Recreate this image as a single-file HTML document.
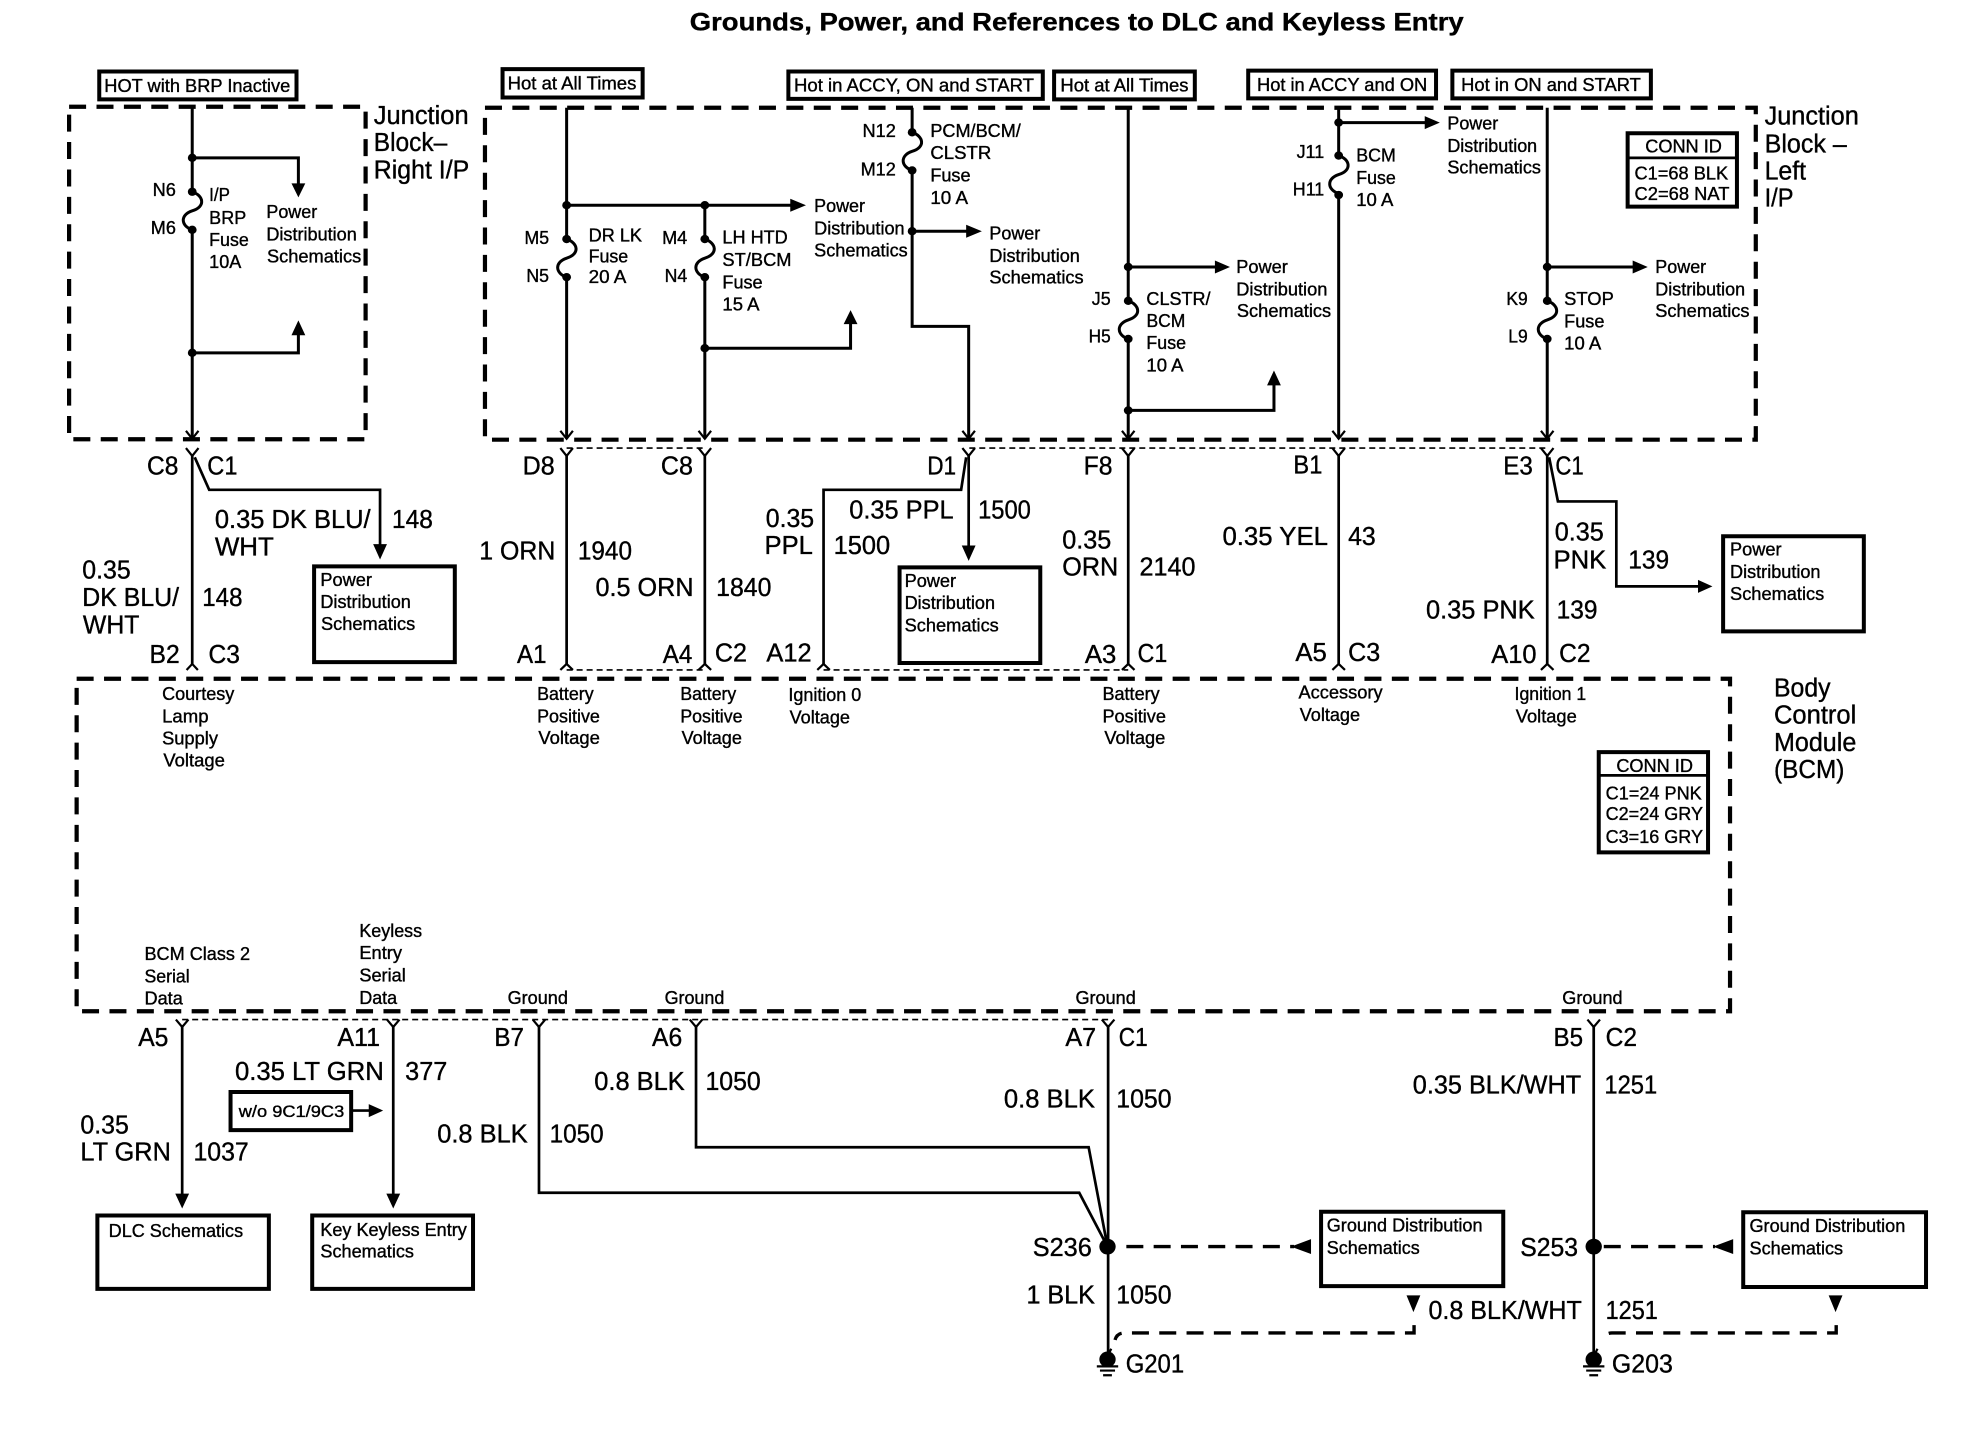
<!DOCTYPE html>
<html><head><meta charset="utf-8"><title>Grounds, Power, and References to DLC and Keyless Entry</title>
<style>
html,body{margin:0;padding:0;background:#fff}
svg{display:block;width:1970px;height:1456px}
path,rect,line{vector-effect:non-scaling-stroke}
.w{fill:none;stroke:#000;stroke-width:3}
.t{fill:none;stroke:#000;stroke-width:2.7}
.c{fill:none;stroke:#000;stroke-width:2.2}
.h{fill:none;stroke:#000;stroke-width:1.6;stroke-dasharray:6 4}
.d{fill:none;stroke:#000;stroke-width:4.2;stroke-dasharray:17 10.4}
.g{fill:none;stroke:#000;stroke-width:3.4;stroke-dasharray:17 10.3}
.b{fill:#fff;stroke:#000;stroke-width:4}
.a{fill:#000;stroke:none}
text{font-family:"Liberation Sans",sans-serif;fill:#000;stroke:#000;stroke-width:.8}
.s{font-size:39px}
.l{font-size:55px}
.m{font-size:35px}
.ti{font-size:54px;font-weight:bold}
</style></head><body>
<svg xmlns="http://www.w3.org/2000/svg" viewBox="0 0 3136 3136" preserveAspectRatio="none">
<rect width="3136" height="3136" fill="#fff"/>
<text class="ti" x="1098" y="66" textLength="1232" lengthAdjust="spacingAndGlyphs">Grounds, Power, and References to DLC and Keyless Entry</text>

<!-- dashed blocks -->
<rect class="d" x="110" y="230" width="472" height="716"/>
<rect class="d" x="772" y="232" width="2023" height="715"/>
<rect class="d" x="122" y="1462" width="2632" height="716"/>
<path class="h" d="M902 965H1122M1543 965H2463M902 1443H1122M1311 1443H1796M290 2196H1764"/>

<!-- hot labels -->
<rect class="b" x="158" y="154" width="314" height="60"/>
<rect class="b" x="800" y="149" width="223" height="61"/>
<rect class="b" x="1255" y="154" width="405" height="59"/>
<rect class="b" x="1678" y="154" width="224" height="60"/>
<rect class="b" x="1987" y="152" width="299" height="60"/>
<rect class="b" x="2312" y="152" width="316" height="60"/>
<text class="s" x="166" y="198" textLength="296" lengthAdjust="spacingAndGlyphs">HOT with BRP Inactive</text>
<text class="s" x="808" y="193" textLength="205" lengthAdjust="spacingAndGlyphs">Hot at All Times</text>
<text class="s" x="1264" y="197" textLength="382" lengthAdjust="spacingAndGlyphs">Hot in ACCY, ON and START</text>
<text class="s" x="1688" y="197" textLength="204" lengthAdjust="spacingAndGlyphs">Hot at All Times</text>
<text class="s" x="2001" y="196" textLength="271" lengthAdjust="spacingAndGlyphs">Hot in ACCY and ON</text>
<text class="s" x="2326" y="196" textLength="286" lengthAdjust="spacingAndGlyphs">Hot in ON and START</text>

<!-- upper wires -->
<path class="w" d="M306 232V413M306 495V945M902 232V515M902 597V945M1122 442V515M1122 597V945M1452 232V285M1452 367V703H1542V945M1796 232V648M1796 730V945M2131 232V335M2131 417V945M2463 232V648M2463 730V945"/>
<!-- fuses -->
<path class="w" d="M306 413C324 421 328 445 306 454C286 463 288 487 306 495"/>
<path class="w" d="M902 515C920 523 924 547 902 556C882 565 884 589 902 597"/>
<path class="w" d="M1122 515C1140 523 1144 547 1122 556C1102 565 1104 589 1122 597"/>
<path class="w" d="M1452 285C1470 293 1474 317 1452 326C1432 335 1434 359 1452 367"/>
<path class="w" d="M1796 648C1814 656 1818 680 1796 689C1776 698 1778 722 1796 730"/>
<path class="w" d="M2131 335C2149 343 2153 367 2131 376C2111 385 2113 409 2131 417"/>
<path class="w" d="M2463 648C2481 656 2485 680 2463 689C2443 698 2445 722 2463 730"/>
<!-- branches -->
<path class="w" d="M306 340H475V400M306 760H475V715M902 442H1260M1122 750H1354V690M1452 498H1540M1796 575H1936M1796 884H2028V825M2131 264H2270M2463 575H2601"/>
<path class="a" d="M464 395H486L475 425ZM464 722H486L475 690ZM1258 428V456L1283 442ZM1343 698H1365L1354 668ZM1538 484V512L1563 498ZM1934 561V589L1958 575ZM2017 830H2039L2028 798ZM2268 250V278L2292 264ZM2599 561V589L2623 575Z"/>
<!-- dots -->
<g fill="#000">
<ellipse cx="306" cy="413" rx="7" ry="9"/><ellipse cx="306" cy="495" rx="7" ry="9"/><ellipse cx="306" cy="340" rx="7" ry="9"/><ellipse cx="306" cy="760" rx="7" ry="9"/>
<ellipse cx="902" cy="442" rx="7" ry="9"/><ellipse cx="902" cy="515" rx="7" ry="9"/><ellipse cx="902" cy="597" rx="7" ry="9"/>
<ellipse cx="1122" cy="442" rx="7" ry="9"/><ellipse cx="1122" cy="515" rx="7" ry="9"/><ellipse cx="1122" cy="597" rx="7" ry="9"/><ellipse cx="1122" cy="750" rx="7" ry="9"/>
<ellipse cx="1452" cy="285" rx="7" ry="9"/><ellipse cx="1452" cy="367" rx="7" ry="9"/><ellipse cx="1452" cy="498" rx="7" ry="9"/>
<ellipse cx="1796" cy="575" rx="7" ry="9"/><ellipse cx="1796" cy="648" rx="7" ry="9"/><ellipse cx="1796" cy="730" rx="7" ry="9"/><ellipse cx="1796" cy="884" rx="7" ry="9"/>
<ellipse cx="2131" cy="264" rx="7" ry="9"/><ellipse cx="2131" cy="335" rx="7" ry="9"/><ellipse cx="2131" cy="420" rx="7" ry="9"/>
<ellipse cx="2463" cy="575" rx="7" ry="9"/><ellipse cx="2463" cy="648" rx="7" ry="9"/><ellipse cx="2463" cy="730" rx="7" ry="9"/>
</g>
<!-- male chevrons -->
<path class="c" d="M296 928L306 945L316 928M892 928L902 945L912 928M1112 928L1122 945L1132 928M1532 928L1542 945L1552 928M1786 928L1796 945L1806 928M2121 928L2131 945L2141 928M2453 928L2463 945L2473 928"/>
<!-- female chevrons -->
<path class="c" d="M296 965L306 982L316 965M892 965L902 982L912 965M1112 965L1122 982L1132 965M1532 965L1542 982L1552 965M1786 965L1796 982L1806 965M2121 965L2131 982L2141 965M2453 965L2463 982L2473 965"/>
<path class="c" d="M297 1443L306 1430L315 1443M892 1443L902 1430L912 1443M1112 1443L1122 1430L1132 1443M1301 1443L1311 1430L1321 1443M1786 1443L1796 1430L1806 1443M2121 1443L2131 1430L2141 1443M2453 1443L2463 1430L2473 1443"/>
<path class="c" d="M280 2196L290 2212L300 2196M616 2196L626 2212L636 2196M848 2196L858 2212L868 2196M1098 2196L1108 2212L1118 2196M1754 2196L1764 2212L1774 2196M2527 2196L2537 2212L2547 2196"/>

<!-- middle wires -->
<path class="t" d="M306 982V1432M902 982V1432M1122 982V1432M1796 982V1432M2131 982V1432M2463 982V1432M1542 982V1180"/>
<path class="t" d="M310 985L333 1055H605V1175M1538 985L1530 1055H1311V1432M2466 985L2480 1080H2573V1263H2705"/>
<path class="a" d="M594 1172H616L605 1205ZM1531 1175H1553L1542 1208ZM2703 1249V1277L2726 1263Z"/>

<!-- boxes -->
<rect class="b" x="500" y="1220" width="224" height="206"/>
<rect class="b" x="1432" y="1222" width="224" height="206"/>
<rect class="b" x="2743" y="1155" width="224" height="205"/>
<rect class="b" x="155" y="2618" width="273" height="158"/>
<rect class="b" x="497" y="2618" width="256" height="158"/>
<rect class="b" x="367" y="2352" width="192" height="82"/>
<rect class="b" x="2103" y="2610" width="290" height="160"/>
<rect class="b" x="2775" y="2611" width="291" height="161"/>
<rect class="b" x="2591" y="287" width="174" height="158"/>
<line class="t" x1="2591" y1="340" x2="2765" y2="340"/>
<rect class="b" x="2545" y="1620" width="174" height="216"/>
<line class="t" x1="2545" y1="1670" x2="2719" y2="1670"/>

<!-- lower wires -->
<path class="t" d="M290 2212V2575M626 2212V2575M858 2212V2569H1718L1763 2685M1108 2212V2471H1733L1763 2685M1764 2212V2928M2537 2212V2928M559 2392H590"/>
<path class="a" d="M279 2571H301L290 2603ZM615 2571H637L626 2603ZM587 2378V2406L610 2392ZM2087 2669V2701L2055 2685ZM2759 2669V2701L2727 2685ZM2239 2790H2261L2250 2826ZM2911 2790H2933L2922 2826Z"/>
<path class="g" d="M1793 2685H2060M2553 2685H2730"/>
<path class="g" d="M2251 2854V2871H1790Q1778 2871 1775 2886M2923 2854V2871H2566Q2554 2871 2551 2886"/>
<path class="c" d="M1769 2905L1765 2916M2543 2905L2539 2916"/>
<g fill="#000">
<ellipse cx="1763" cy="2685" rx="13" ry="17"/><ellipse cx="2537" cy="2685" rx="13" ry="17"/>
<ellipse cx="1763" cy="2928" rx="13" ry="17"/><ellipse cx="2537" cy="2928" rx="13" ry="17"/>
</g>
<path class="c" d="M1746 2943H1780M1751 2952H1775M1756 2962H1770M2520 2943H2554M2525 2952H2549M2530 2962H2544"/>

<!-- small labels -->
<g class="s">
<text x="243" y="422" textLength="37" lengthAdjust="spacingAndGlyphs">N6</text>
<text x="240" y="504" textLength="40" lengthAdjust="spacingAndGlyphs">M6</text>
<text x="333" y="433" textLength="33" lengthAdjust="spacingAndGlyphs">I/P</text>
<text x="333" y="482" textLength="59" lengthAdjust="spacingAndGlyphs">BRP</text>
<text x="333" y="530" textLength="63" lengthAdjust="spacingAndGlyphs">Fuse</text>
<text x="333" y="577" textLength="51" lengthAdjust="spacingAndGlyphs">10A</text>
<text x="424" y="470" textLength="81" lengthAdjust="spacingAndGlyphs">Power</text>
<text x="424" y="518" textLength="144" lengthAdjust="spacingAndGlyphs">Distribution</text>
<text x="425" y="565" textLength="150" lengthAdjust="spacingAndGlyphs">Schematics</text>
<text x="835" y="526" textLength="39" lengthAdjust="spacingAndGlyphs">M5</text>
<text x="838" y="607" textLength="36" lengthAdjust="spacingAndGlyphs">N5</text>
<text x="937" y="520" textLength="85" lengthAdjust="spacingAndGlyphs">DR LK</text>
<text x="937" y="565" textLength="63" lengthAdjust="spacingAndGlyphs">Fuse</text>
<text x="937" y="610" textLength="60" lengthAdjust="spacingAndGlyphs">20 A</text>
<text x="1054" y="526" textLength="40" lengthAdjust="spacingAndGlyphs">M4</text>
<text x="1058" y="607" textLength="36" lengthAdjust="spacingAndGlyphs">N4</text>
<text x="1150" y="525" textLength="104" lengthAdjust="spacingAndGlyphs">LH HTD</text>
<text x="1150" y="573" textLength="110" lengthAdjust="spacingAndGlyphs">ST/BCM</text>
<text x="1150" y="621" textLength="64" lengthAdjust="spacingAndGlyphs">Fuse</text>
<text x="1150" y="669" textLength="59" lengthAdjust="spacingAndGlyphs">15 A</text>
<text x="1296" y="457" textLength="81" lengthAdjust="spacingAndGlyphs">Power</text>
<text x="1296" y="505" textLength="144" lengthAdjust="spacingAndGlyphs">Distribution</text>
<text x="1296" y="552" textLength="149" lengthAdjust="spacingAndGlyphs">Schematics</text>
<text x="1373" y="295" textLength="53" lengthAdjust="spacingAndGlyphs">N12</text>
<text x="1370" y="378" textLength="56" lengthAdjust="spacingAndGlyphs">M12</text>
<text x="1481" y="295" textLength="144" lengthAdjust="spacingAndGlyphs">PCM/BCM/</text>
<text x="1481" y="342" textLength="97" lengthAdjust="spacingAndGlyphs">CLSTR</text>
<text x="1481" y="391" textLength="64" lengthAdjust="spacingAndGlyphs">Fuse</text>
<text x="1481" y="439" textLength="60" lengthAdjust="spacingAndGlyphs">10 A</text>
<text x="1575" y="516" textLength="81" lengthAdjust="spacingAndGlyphs">Power</text>
<text x="1575" y="564" textLength="144" lengthAdjust="spacingAndGlyphs">Distribution</text>
<text x="1575" y="611" textLength="150" lengthAdjust="spacingAndGlyphs">Schematics</text>
<text x="1738" y="657" textLength="30" lengthAdjust="spacingAndGlyphs">J5</text>
<text x="1733" y="738" textLength="35" lengthAdjust="spacingAndGlyphs">H5</text>
<text x="1825" y="657" textLength="102" lengthAdjust="spacingAndGlyphs">CLSTR/</text>
<text x="1825" y="704" textLength="62" lengthAdjust="spacingAndGlyphs">BCM</text>
<text x="1825" y="752" textLength="63" lengthAdjust="spacingAndGlyphs">Fuse</text>
<text x="1825" y="800" textLength="59" lengthAdjust="spacingAndGlyphs">10 A</text>
<text x="1968" y="588" textLength="82" lengthAdjust="spacingAndGlyphs">Power</text>
<text x="1968" y="636" textLength="145" lengthAdjust="spacingAndGlyphs">Distribution</text>
<text x="1969" y="683" textLength="150" lengthAdjust="spacingAndGlyphs">Schematics</text>
<text x="2064" y="340" textLength="44" lengthAdjust="spacingAndGlyphs">J11</text>
<text x="2058" y="421" textLength="50" lengthAdjust="spacingAndGlyphs">H11</text>
<text x="2159" y="348" textLength="63" lengthAdjust="spacingAndGlyphs">BCM</text>
<text x="2159" y="396" textLength="63" lengthAdjust="spacingAndGlyphs">Fuse</text>
<text x="2159" y="444" textLength="59" lengthAdjust="spacingAndGlyphs">10 A</text>
<text x="2304" y="279" textLength="81" lengthAdjust="spacingAndGlyphs">Power</text>
<text x="2304" y="327" textLength="143" lengthAdjust="spacingAndGlyphs">Distribution</text>
<text x="2304" y="374" textLength="149" lengthAdjust="spacingAndGlyphs">Schematics</text>
<text x="2398" y="657" textLength="34" lengthAdjust="spacingAndGlyphs">K9</text>
<text x="2401" y="738" textLength="31" lengthAdjust="spacingAndGlyphs">L9</text>
<text x="2490" y="657" textLength="79" lengthAdjust="spacingAndGlyphs">STOP</text>
<text x="2490" y="705" textLength="64" lengthAdjust="spacingAndGlyphs">Fuse</text>
<text x="2490" y="753" textLength="59" lengthAdjust="spacingAndGlyphs">10 A</text>
<text x="2635" y="588" textLength="81" lengthAdjust="spacingAndGlyphs">Power</text>
<text x="2635" y="636" textLength="143" lengthAdjust="spacingAndGlyphs">Distribution</text>
<text x="2635" y="683" textLength="150" lengthAdjust="spacingAndGlyphs">Schematics</text>
<text x="510" y="1262" textLength="82" lengthAdjust="spacingAndGlyphs">Power</text>
<text x="510" y="1310" textLength="144" lengthAdjust="spacingAndGlyphs">Distribution</text>
<text x="511" y="1357" textLength="150" lengthAdjust="spacingAndGlyphs">Schematics</text>
<text x="1440" y="1264" textLength="82" lengthAdjust="spacingAndGlyphs">Power</text>
<text x="1440" y="1312" textLength="144" lengthAdjust="spacingAndGlyphs">Distribution</text>
<text x="1440" y="1360" textLength="150" lengthAdjust="spacingAndGlyphs">Schematics</text>
<text x="2754" y="1197" textLength="82" lengthAdjust="spacingAndGlyphs">Power</text>
<text x="2754" y="1245" textLength="144" lengthAdjust="spacingAndGlyphs">Distribution</text>
<text x="2754" y="1292" textLength="150" lengthAdjust="spacingAndGlyphs">Schematics</text>
<text x="173" y="2664" textLength="214" lengthAdjust="spacingAndGlyphs">DLC Schematics</text>
<text x="510" y="2662" textLength="233" lengthAdjust="spacingAndGlyphs">Key Keyless Entry</text>
<text x="510" y="2709" textLength="149" lengthAdjust="spacingAndGlyphs">Schematics</text>
<text x="2112" y="2653" textLength="248" lengthAdjust="spacingAndGlyphs">Ground Distribution</text>
<text x="2112" y="2701" textLength="148" lengthAdjust="spacingAndGlyphs">Schematics</text>
<text x="2785" y="2654" textLength="248" lengthAdjust="spacingAndGlyphs">Ground Distribution</text>
<text x="2785" y="2702" textLength="149" lengthAdjust="spacingAndGlyphs">Schematics</text>
<text x="2619" y="328" textLength="122" lengthAdjust="spacingAndGlyphs">CONN ID</text>
<text x="2602" y="387" textLength="149" lengthAdjust="spacingAndGlyphs">C1=68 BLK</text>
<text x="2602" y="431" textLength="151" lengthAdjust="spacingAndGlyphs">C2=68 NAT</text>
<text x="2573" y="1663" textLength="122" lengthAdjust="spacingAndGlyphs">CONN ID</text>
<text x="2556" y="1722" textLength="153" lengthAdjust="spacingAndGlyphs">C1=24 PNK</text>
<text x="2556" y="1766" textLength="155" lengthAdjust="spacingAndGlyphs">C2=24 GRY</text>
<text x="2556" y="1816" textLength="155" lengthAdjust="spacingAndGlyphs">C3=16 GRY</text>
<text x="258" y="1508" textLength="115" lengthAdjust="spacingAndGlyphs">Courtesy</text>
<text x="258" y="1556" textLength="74" lengthAdjust="spacingAndGlyphs">Lamp</text>
<text x="258" y="1604" textLength="89" lengthAdjust="spacingAndGlyphs">Supply</text>
<text x="260" y="1651" textLength="98" lengthAdjust="spacingAndGlyphs">Voltage</text>
<text x="855" y="1508" textLength="90" lengthAdjust="spacingAndGlyphs">Battery</text>
<text x="855" y="1556" textLength="100" lengthAdjust="spacingAndGlyphs">Positive</text>
<text x="857" y="1603" textLength="98" lengthAdjust="spacingAndGlyphs">Voltage</text>
<text x="1083" y="1508" textLength="89" lengthAdjust="spacingAndGlyphs">Battery</text>
<text x="1083" y="1556" textLength="99" lengthAdjust="spacingAndGlyphs">Positive</text>
<text x="1085" y="1603" textLength="96" lengthAdjust="spacingAndGlyphs">Voltage</text>
<text x="1255" y="1510" textLength="116" lengthAdjust="spacingAndGlyphs">Ignition 0</text>
<text x="1257" y="1558" textLength="96" lengthAdjust="spacingAndGlyphs">Voltage</text>
<text x="1755" y="1508" textLength="91" lengthAdjust="spacingAndGlyphs">Battery</text>
<text x="1755" y="1556" textLength="101" lengthAdjust="spacingAndGlyphs">Positive</text>
<text x="1758" y="1603" textLength="97" lengthAdjust="spacingAndGlyphs">Voltage</text>
<text x="2067" y="1505" textLength="134" lengthAdjust="spacingAndGlyphs">Accessory</text>
<text x="2069" y="1553" textLength="96" lengthAdjust="spacingAndGlyphs">Voltage</text>
<text x="2411" y="1508" textLength="114" lengthAdjust="spacingAndGlyphs">Ignition 1</text>
<text x="2413" y="1556" textLength="97" lengthAdjust="spacingAndGlyphs">Voltage</text>
<text x="230" y="2068" textLength="168" lengthAdjust="spacingAndGlyphs">BCM Class 2</text>
<text x="230" y="2116" textLength="72" lengthAdjust="spacingAndGlyphs">Serial</text>
<text x="230" y="2164" textLength="61" lengthAdjust="spacingAndGlyphs">Data</text>
<text x="572" y="2018" textLength="100" lengthAdjust="spacingAndGlyphs">Keyless</text>
<text x="572" y="2066" textLength="68" lengthAdjust="spacingAndGlyphs">Entry</text>
<text x="572" y="2114" textLength="74" lengthAdjust="spacingAndGlyphs">Serial</text>
<text x="572" y="2162" textLength="60" lengthAdjust="spacingAndGlyphs">Data</text>
<text x="808" y="2163" textLength="96" lengthAdjust="spacingAndGlyphs">Ground</text>
<text x="1058" y="2163" textLength="95" lengthAdjust="spacingAndGlyphs">Ground</text>
<text x="1712" y="2163" textLength="96" lengthAdjust="spacingAndGlyphs">Ground</text>
<text x="2487" y="2163" textLength="96" lengthAdjust="spacingAndGlyphs">Ground</text>
</g>
<text class="m" x="380" y="2406" textLength="168" lengthAdjust="spacingAndGlyphs">w/o 9C1/9C3</text>

<!-- large labels -->
<g class="l">
<text x="595" y="267" textLength="151" lengthAdjust="spacingAndGlyphs">Junction</text>
<text x="595" y="325" textLength="117" lengthAdjust="spacingAndGlyphs">Block–</text>
<text x="595" y="385" textLength="152" lengthAdjust="spacingAndGlyphs">Right I/P</text>
<text x="2809" y="268" textLength="150" lengthAdjust="spacingAndGlyphs">Junction</text>
<text x="2809" y="328" textLength="131" lengthAdjust="spacingAndGlyphs">Block –</text>
<text x="2809" y="387" textLength="66" lengthAdjust="spacingAndGlyphs">Left</text>
<text x="2809" y="445" textLength="46" lengthAdjust="spacingAndGlyphs">I/P</text>
<text x="2824" y="1500" textLength="90" lengthAdjust="spacingAndGlyphs">Body</text>
<text x="2824" y="1558" textLength="131" lengthAdjust="spacingAndGlyphs">Control</text>
<text x="2824" y="1618" textLength="131" lengthAdjust="spacingAndGlyphs">Module</text>
<text x="2824" y="1676" textLength="112" lengthAdjust="spacingAndGlyphs">(BCM)</text>
<text x="234" y="1022" textLength="50" lengthAdjust="spacingAndGlyphs">C8</text>
<text x="330" y="1022" textLength="48" lengthAdjust="spacingAndGlyphs">C1</text>
<text x="832" y="1022" textLength="51" lengthAdjust="spacingAndGlyphs">D8</text>
<text x="1052" y="1022" textLength="51" lengthAdjust="spacingAndGlyphs">C8</text>
<text x="1476" y="1022" textLength="46" lengthAdjust="spacingAndGlyphs">D1</text>
<text x="1725" y="1022" textLength="46" lengthAdjust="spacingAndGlyphs">F8</text>
<text x="2059" y="1020" textLength="46" lengthAdjust="spacingAndGlyphs">B1</text>
<text x="2393" y="1022" textLength="47" lengthAdjust="spacingAndGlyphs">E3</text>
<text x="2476" y="1022" textLength="45" lengthAdjust="spacingAndGlyphs">C1</text>
<text x="342" y="1137" textLength="248" lengthAdjust="spacingAndGlyphs">0.35 DK BLU/</text>
<text x="342" y="1197" textLength="94" lengthAdjust="spacingAndGlyphs">WHT</text>
<text x="624" y="1137" textLength="65" lengthAdjust="spacingAndGlyphs">148</text>
<text x="131" y="1246" textLength="77" lengthAdjust="spacingAndGlyphs">0.35</text>
<text x="131" y="1305" textLength="154" lengthAdjust="spacingAndGlyphs">DK BLU/</text>
<text x="132" y="1365" textLength="90" lengthAdjust="spacingAndGlyphs">WHT</text>
<text x="322" y="1305" textLength="64" lengthAdjust="spacingAndGlyphs">148</text>
<text x="763" y="1205" textLength="121" lengthAdjust="spacingAndGlyphs">1 ORN</text>
<text x="920" y="1205" textLength="86" lengthAdjust="spacingAndGlyphs">1940</text>
<text x="948" y="1284" textLength="156" lengthAdjust="spacingAndGlyphs">0.5 ORN</text>
<text x="1140" y="1284" textLength="88" lengthAdjust="spacingAndGlyphs">1840</text>
<text x="1219" y="1135" textLength="77" lengthAdjust="spacingAndGlyphs">0.35</text>
<text x="1217" y="1193" textLength="77" lengthAdjust="spacingAndGlyphs">PPL</text>
<text x="1327" y="1193" textLength="90" lengthAdjust="spacingAndGlyphs">1500</text>
<text x="1352" y="1117" textLength="166" lengthAdjust="spacingAndGlyphs">0.35 PPL</text>
<text x="1557" y="1117" textLength="84" lengthAdjust="spacingAndGlyphs">1500</text>
<text x="1691" y="1181" textLength="78" lengthAdjust="spacingAndGlyphs">0.35</text>
<text x="1691" y="1240" textLength="89" lengthAdjust="spacingAndGlyphs">ORN</text>
<text x="1814" y="1240" textLength="89" lengthAdjust="spacingAndGlyphs">2140</text>
<text x="1946" y="1174" textLength="168" lengthAdjust="spacingAndGlyphs">0.35 YEL</text>
<text x="2146" y="1174" textLength="44" lengthAdjust="spacingAndGlyphs">43</text>
<text x="2475" y="1164" textLength="78" lengthAdjust="spacingAndGlyphs">0.35</text>
<text x="2473" y="1224" textLength="84" lengthAdjust="spacingAndGlyphs">PNK</text>
<text x="2592" y="1224" textLength="65" lengthAdjust="spacingAndGlyphs">139</text>
<text x="2270" y="1332" textLength="173" lengthAdjust="spacingAndGlyphs">0.35 PNK</text>
<text x="2478" y="1332" textLength="65" lengthAdjust="spacingAndGlyphs">139</text>
<text x="238" y="1428" textLength="48" lengthAdjust="spacingAndGlyphs">B2</text>
<text x="332" y="1428" textLength="50" lengthAdjust="spacingAndGlyphs">C3</text>
<text x="823" y="1428" textLength="47" lengthAdjust="spacingAndGlyphs">A1</text>
<text x="1055" y="1428" textLength="47" lengthAdjust="spacingAndGlyphs">A4</text>
<text x="1138" y="1425" textLength="51" lengthAdjust="spacingAndGlyphs">C2</text>
<text x="1220" y="1425" textLength="72" lengthAdjust="spacingAndGlyphs">A12</text>
<text x="1727" y="1428" textLength="50" lengthAdjust="spacingAndGlyphs">A3</text>
<text x="1811" y="1426" textLength="47" lengthAdjust="spacingAndGlyphs">C1</text>
<text x="2062" y="1424" textLength="50" lengthAdjust="spacingAndGlyphs">A5</text>
<text x="2146" y="1424" textLength="51" lengthAdjust="spacingAndGlyphs">C3</text>
<text x="2374" y="1428" textLength="72" lengthAdjust="spacingAndGlyphs">A10</text>
<text x="2482" y="1426" textLength="50" lengthAdjust="spacingAndGlyphs">C2</text>
<text x="220" y="2253" textLength="48" lengthAdjust="spacingAndGlyphs">A5</text>
<text x="537" y="2253" textLength="68" lengthAdjust="spacingAndGlyphs">A11</text>
<text x="787" y="2253" textLength="47" lengthAdjust="spacingAndGlyphs">B7</text>
<text x="1038" y="2253" textLength="48" lengthAdjust="spacingAndGlyphs">A6</text>
<text x="1696" y="2253" textLength="49" lengthAdjust="spacingAndGlyphs">A7</text>
<text x="1781" y="2253" textLength="46" lengthAdjust="spacingAndGlyphs">C1</text>
<text x="2473" y="2253" textLength="47" lengthAdjust="spacingAndGlyphs">B5</text>
<text x="2556" y="2253" textLength="50" lengthAdjust="spacingAndGlyphs">C2</text>
<text x="374" y="2326" textLength="237" lengthAdjust="spacingAndGlyphs">0.35 LT GRN</text>
<text x="645" y="2326" textLength="67" lengthAdjust="spacingAndGlyphs">377</text>
<text x="128" y="2441" textLength="77" lengthAdjust="spacingAndGlyphs">0.35</text>
<text x="128" y="2500" textLength="144" lengthAdjust="spacingAndGlyphs">LT GRN</text>
<text x="308" y="2500" textLength="88" lengthAdjust="spacingAndGlyphs">1037</text>
<text x="696" y="2461" textLength="144" lengthAdjust="spacingAndGlyphs">0.8 BLK</text>
<text x="875" y="2461" textLength="86" lengthAdjust="spacingAndGlyphs">1050</text>
<text x="946" y="2348" textLength="144" lengthAdjust="spacingAndGlyphs">0.8 BLK</text>
<text x="1123" y="2348" textLength="88" lengthAdjust="spacingAndGlyphs">1050</text>
<text x="1598" y="2385" textLength="145" lengthAdjust="spacingAndGlyphs">0.8 BLK</text>
<text x="1777" y="2385" textLength="88" lengthAdjust="spacingAndGlyphs">1050</text>
<text x="2249" y="2355" textLength="268" lengthAdjust="spacingAndGlyphs">0.35 BLK/WHT</text>
<text x="2554" y="2355" textLength="84" lengthAdjust="spacingAndGlyphs">1251</text>
<text x="1644" y="2705" textLength="94" lengthAdjust="spacingAndGlyphs">S236</text>
<text x="2420" y="2705" textLength="92" lengthAdjust="spacingAndGlyphs">S253</text>
<text x="1634" y="2808" textLength="109" lengthAdjust="spacingAndGlyphs">1 BLK</text>
<text x="1777" y="2808" textLength="88" lengthAdjust="spacingAndGlyphs">1050</text>
<text x="2274" y="2841" textLength="244" lengthAdjust="spacingAndGlyphs">0.8 BLK/WHT</text>
<text x="2556" y="2841" textLength="83" lengthAdjust="spacingAndGlyphs">1251</text>
<text x="1792" y="2956" textLength="93" lengthAdjust="spacingAndGlyphs">G201</text>
<text x="2566" y="2956" textLength="97" lengthAdjust="spacingAndGlyphs">G203</text>
</g>
</svg>
</body></html>
